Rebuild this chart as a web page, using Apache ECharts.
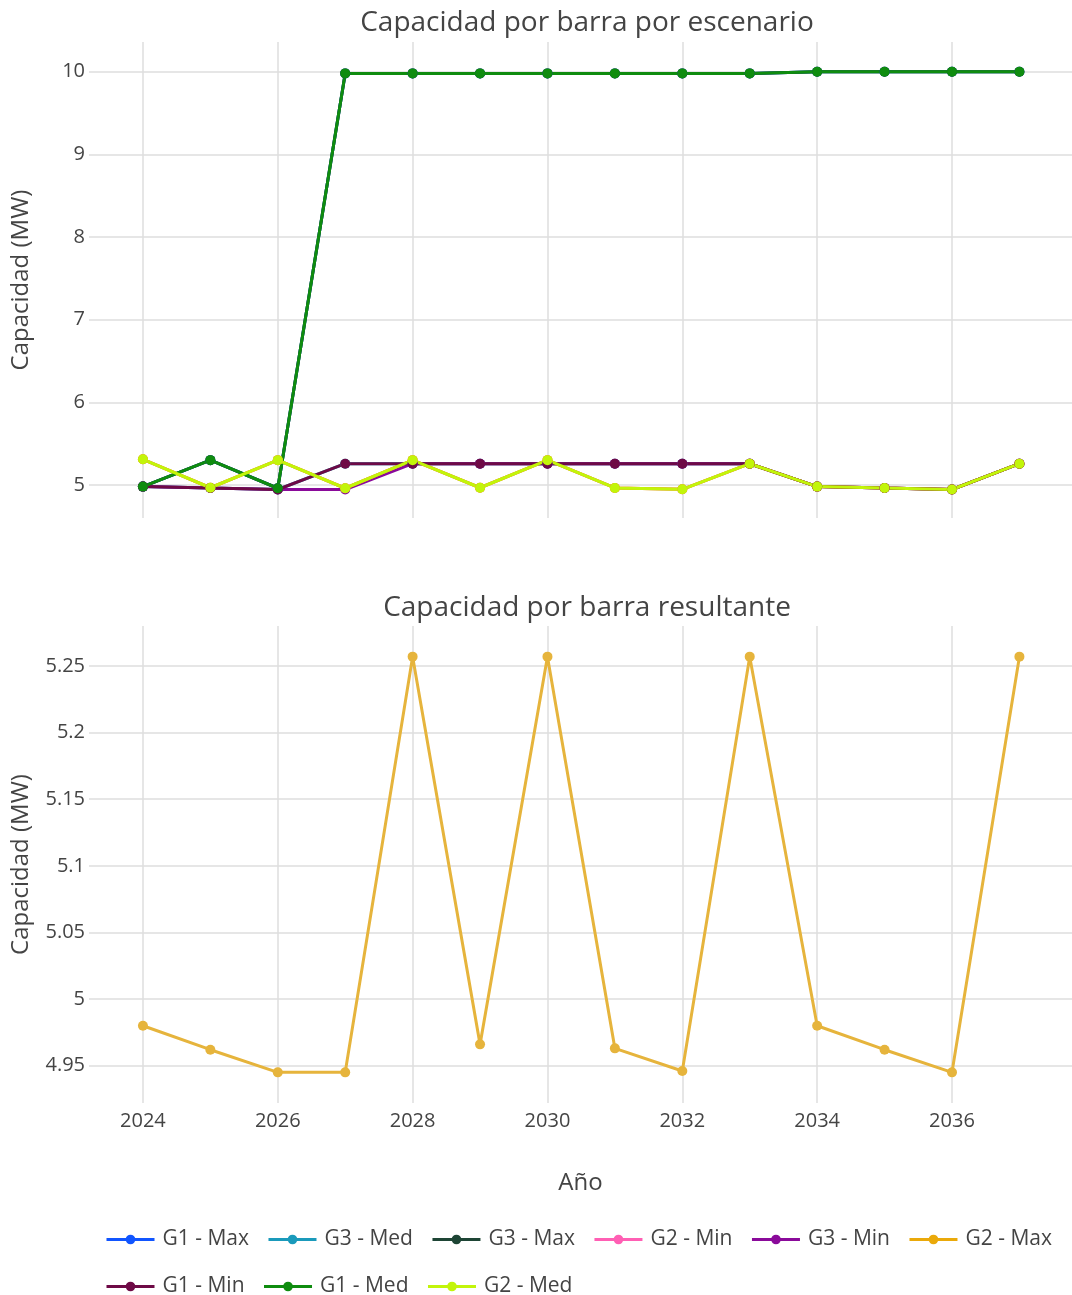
<!DOCTYPE html>
<html>
<head>
<meta charset="utf-8">
<script src="https://cdn.jsdelivr.net/npm/echarts@6/dist/echarts.min.js"></script>
<style>
  html, body { margin: 0; padding: 0; background: #fff; }
  #chart { width: 1072px; height: 1295px; }
</style>
</head>
<body>
<div id="chart"></div>
<script>
const years = [2024, 2025, 2026, 2027, 2028, 2029, 2030, 2031, 2032, 2033, 2034, 2035, 2036, 2037]
const yearTicks = [2024, 2026, 2028, 2030, 2032, 2034, 2036]
const topTicks = [5, 6, 7, 8, 9, 10]
const bottomTicks = [4.95, 5, 5.05, 5.1, 5.15, 5.2, 5.25]

// escenarios (las series ocultas coinciden con las visibles que las tapan)
const g1Max = [4.98, 5.30, 4.96, 9.98, 9.98, 9.98, 9.98, 9.98, 9.98, 9.98, 10.0, 10.0, 10.0, 10.0]
const g3Med = [4.98, 4.962, 4.945, 5.257, 5.257, 5.257, 5.257, 5.257, 5.257, 5.257, 4.98, 4.962, 4.945, 5.257]
const g3Max = [4.98, 5.30, 4.96, 9.98, 9.98, 9.98, 9.98, 9.98, 9.98, 9.98, 10.0, 10.0, 10.0, 10.0]
const g2Min = [5.31, 4.966, 5.30, 4.96, 5.30, 4.966, 5.30, 4.964, 4.947, 5.257, 4.98, 4.962, 4.945, 5.257]
const g3Min = [4.98, 4.962, 4.945, 4.945, 5.257, 5.257, 5.257, 5.257, 5.257, 5.257, 4.98, 4.962, 4.945, 5.257]
const g2Max = [5.31, 4.966, 5.30, 4.96, 5.30, 4.966, 5.30, 4.964, 4.947, 5.257, 4.98, 4.962, 4.945, 5.257]
const g1Min = [4.98, 4.962, 4.945, 5.257, 5.257, 5.257, 5.257, 5.257, 5.257, 5.257, 4.98, 4.962, 4.945, 5.257]
const g1Med = [4.98, 5.30, 4.96, 9.98, 9.98, 9.98, 9.98, 9.98, 9.98, 9.98, 10.0, 10.0, 10.0, 10.0]
const g2Med = [5.31, 4.966, 5.30, 4.96, 5.30, 4.966, 5.30, 4.964, 4.947, 5.257, 4.98, 4.962, 4.945, 5.257]

const resultante = [4.98, 4.962, 4.945, 4.945, 5.257, 4.966, 5.257, 4.963, 4.946, 5.257, 4.98, 4.962, 4.945, 5.257]

const scenarios = [
  { name: 'G1 - Max', data: g1Max, color: '#1155ff' },
  { name: 'G3 - Med', data: g3Med, color: '#1a9abb' },
  { name: 'G3 - Max', data: g3Max, color: '#1e4535' },
  { name: 'G2 - Min', data: g2Min, color: '#ff5fb4' },
  { name: 'G3 - Min', data: g3Min, color: '#8a0a9a' },
  { name: 'G2 - Max', data: g2Max, color: '#eaa90a' },
  { name: 'G1 - Min', data: g1Min, color: '#6e0a46' },
  { name: 'G1 - Med', data: g1Med, color: '#0f8c0f' },
  { name: 'G2 - Med', data: g2Med, color: '#c2f50a' },
]

const FONT = '"Open Sans", "Noto Sans", sans-serif'
const TXT = '#444'
const GRIDC = '#dedede'

const chart = echarts.init(document.getElementById('chart'))

function xAxis(gridIndex, showLabels) {
  return {
    type: 'value', gridIndex, min: 2023.2, max: 2037.78,
    axisLine: { show: false },
    axisTick: { show: false, customValues: yearTicks },
    axisLabel: {
      show: showLabels, customValues: yearTicks, formatter: (v) => String(v),
      color: TXT, fontSize: 20, fontFamily: FONT, margin: 8,
    },
    splitLine: { show: true, lineStyle: { color: GRIDC, width: 1.5 } },
    name: showLabels ? 'Año' : '',
    nameLocation: 'middle', nameGap: 68,
    nameTextStyle: { color: TXT, fontSize: 24, fontFamily: FONT },
  }
}

function yAxis(gridIndex, min, max, ticks) {
  return {
    type: 'value', gridIndex, min, max,
    axisLine: { show: false },
    axisTick: { show: false, customValues: ticks },
    axisLabel: { customValues: ticks, color: TXT, fontSize: 20, fontFamily: FONT, margin: 4 },
    splitLine: { show: true, lineStyle: { color: GRIDC, width: 1.5 } },
    name: 'Capacidad (MW)',
    nameLocation: 'middle', nameGap: 56,
    nameTextStyle: { color: TXT, fontSize: 24, fontFamily: FONT },
  }
}

const series = scenarios.map((s) => ({
  name: s.name,
  type: 'line',
  xAxisIndex: 0,
  yAxisIndex: 0,
  data: years.map((y, i) => [y, s.data[i]]),
  symbol: 'circle',
  symbolSize: 10,
  color: s.color,
  lineStyle: { width: 3, color: s.color },
  itemStyle: { color: s.color },
}))

series.push({
  name: 'Resultante',
  type: 'line',
  xAxisIndex: 1,
  yAxisIndex: 1,
  data: years.map((y, i) => [y, resultante[i]]),
  symbol: 'circle',
  symbolSize: 10,
  lineStyle: { width: 3, color: '#e6b43c' },
  itemStyle: { color: '#e6b43c' },
})

chart.setOption({
  animation: false,
  backgroundColor: '#fff',
  title: [
    { text: 'Capacidad por barra por escenario', left: 582, top: 4, textAlign: 'center',
      textStyle: { color: TXT, fontSize: 28, fontWeight: 'normal', fontFamily: FONT } },
    { text: 'Capacidad por barra resultante', left: 582, top: 589, textAlign: 'center',
      textStyle: { color: TXT, fontSize: 28, fontWeight: 'normal', fontFamily: FONT } },
  ],
  legend: {
    data: scenarios.map((s) => s.name),
    left: 100, right: 0, top: 1220,
    itemWidth: 48, itemHeight: 12, itemGap: 18,
    lineStyle: { width: 3 },
    textStyle: { color: TXT, fontSize: 21, fontFamily: FONT, lineHeight: 29, padding: [0, 0, 0, 3] },
  },
  grid: [
    { left: 89, right: 0, top: 42, height: 476 },
    { left: 89, right: 0, top: 626, height: 477 },
  ],
  xAxis: [xAxis(0, false), xAxis(1, true)],
  yAxis: [yAxis(0, 4.6, 10.36, topTicks), yAxis(1, 4.922, 5.28, bottomTicks)],
  series,
})
</script>
</body>
</html>
